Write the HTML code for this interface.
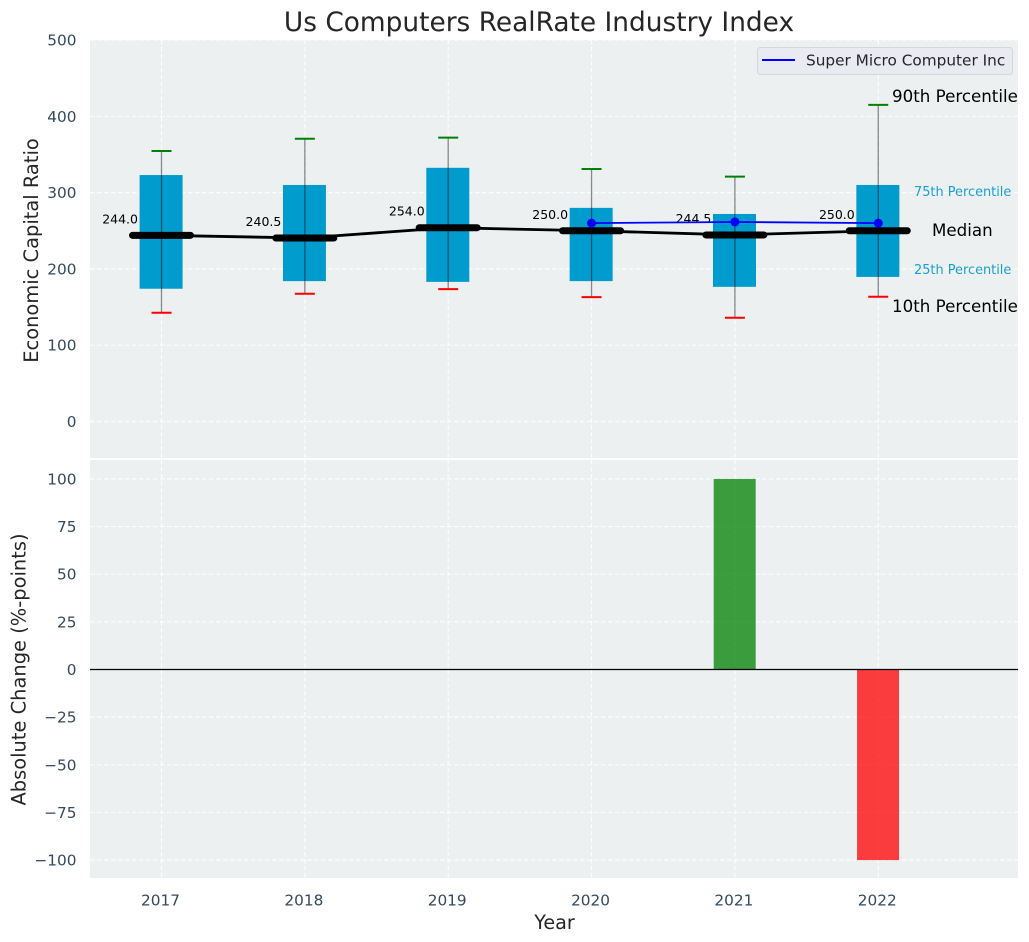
<!DOCTYPE html>
<html>
<head>
<meta charset="utf-8">
<title>Us Computers RealRate Industry Index</title>
<style>
html,body{margin:0;padding:0;background:#fff;width:1029px;height:942px;overflow:hidden}
svg{display:block}
text{font-family:"DejaVu Sans","Liberation Sans",sans-serif}
</style>
</head>
<body>
<svg id="chart" width="1029" height="942" viewBox="0 0 1029 942" xmlns="http://www.w3.org/2000/svg">
  <defs>
    <clipPath id="top-clip"><rect x="90" y="40" width="928" height="418"/></clipPath>
    <clipPath id="bottom-clip"><rect x="90" y="460" width="928" height="418"/></clipPath>
  </defs>
  <text x="539" y="31" font-size="26.4" fill="#262626" text-anchor="middle">Us Computers RealRate Industry Index</text>
  <rect x="90" y="40" width="928" height="418" fill="#ecf0f1"/>
  <rect x="90" y="460" width="928" height="418" fill="#ecf0f1"/>
  <g id="grid-layer"></g>
  <g id="top-marks" clip-path="url(#top-clip)"></g>
  <g id="bottom-marks" clip-path="url(#bottom-clip)"></g>
  <g id="tick-layer"></g>
  <text transform="translate(38,250.5) rotate(-90)" font-size="19.46" fill="#262626" text-anchor="middle">Economic Capital Ratio</text>
  <text transform="translate(25.5,669.5) rotate(-90)" font-size="19.46" fill="#262626" text-anchor="middle">Absolute Change (%-points)</text>
  <text x="554.5" y="929" font-size="19.2" fill="#262626" text-anchor="middle">Year</text>
  <g>
    <rect x="757.5" y="47.5" width="255" height="27" rx="3" fill="#eaeaf2" stroke="#d4d6d8" stroke-width="1"/>
    <line x1="762" y1="60" x2="795" y2="60" stroke="#0000ff" stroke-width="2"/>
    <text x="806" y="65.5" font-size="15.3" fill="#262626">Super Micro Computer Inc</text>
  </g>
  <g>
    <text x="892" y="102" font-size="16.68" fill="#000">90th Percentile</text>
    <text x="914" y="196" font-size="12.9" fill="#1a9fd0">75th Percentile</text>
    <text x="932" y="236" font-size="16.68" fill="#000">Median</text>
    <text x="914" y="274" font-size="12.9" fill="#1a9fd0">25th Percentile</text>
    <text x="892" y="312" font-size="16.68" fill="#000">10th Percentile</text>
  </g>
</svg>
<script>
const years = [2017, 2018, 2019, 2020, 2021, 2022];
const p90 = [354.5, 370.5, 372, 331, 321, 415];
const p75 = [323, 310, 332.5, 280, 272, 310];
const medians = [244.0, 240.5, 254.0, 250.0, 244.5, 250.0];
const p25 = [174, 184, 183, 184, 176.5, 189.5];
const p10 = [142.5, 167.5, 173.5, 163, 136, 163.5];
const companyYears = [2020, 2021, 2022];
const companyValues = [260, 261.5, 260];
const changeValues = [0, 0, 0, 0, 100, -100];
const topTicks = [0, 100, 200, 300, 400, 500];
const bottomTicks = [-100, -75, -50, -25, 0, 25, 50, 75, 100];

const NS = 'http://www.w3.org/2000/svg';
const xScale = function (year) { return 161.5 + (year - 2017) * 143.35; };
const yTop = function (v) { return 421.5 - v * 0.763; };
const yBottom = function (v) { return 669.5 - v * 1.906; };
const boxWidth = 43;
const barWidth = 42;

function make(parent, tag, attrs, text) {
  const el = document.createElementNS(NS, tag);
  for (const k in attrs) el.setAttribute(k, attrs[k]);
  if (text !== undefined) el.textContent = text;
  parent.appendChild(el);
  return el;
}

const gridLayer = document.getElementById('grid-layer');
const gridStyle = { stroke: '#ffffff', 'stroke-width': 1.2, 'stroke-dasharray': '4.5 2.5', 'stroke-opacity': 0.85 };
years.forEach(function (yr) {
  const a = make(gridLayer, 'line', Object.assign({ x1: xScale(yr), x2: xScale(yr), y1: 40, y2: 458 }, gridStyle));
  
  
  const b = make(gridLayer, 'line', Object.assign({ x1: xScale(yr), x2: xScale(yr), y1: 460, y2: 878 }, gridStyle));
  
  
});
topTicks.forEach(function (t) {
  const a = make(gridLayer, 'line', Object.assign({ x1: 90, x2: 1018, y1: yTop(t), y2: yTop(t) }, gridStyle));
  
  
});
bottomTicks.forEach(function (t) {
  const a = make(gridLayer, 'line', Object.assign({ x1: 90, x2: 1018, y1: yBottom(t), y2: yBottom(t) }, gridStyle));
  
  
});

const tickLayer = document.getElementById('tick-layer');
const tickColor = '#34495e';
topTicks.forEach(function (t) {
  const el = make(tickLayer, 'text', { x: 76.5, y: yTop(t) + 5.5, 'font-size': 15.3, fill: tickColor, 'text-anchor': 'end' }, String(t));
  
  
});
bottomTicks.forEach(function (t) {
  const label = t < 0 ? '\u2212' + Math.abs(t) : String(t);
  const el = make(tickLayer, 'text', { x: 76.5, y: yBottom(t) + 5.5, 'font-size': 15.3, fill: tickColor, 'text-anchor': 'end' }, label);
  
  
});
years.forEach(function (yr) {
  const el = make(tickLayer, 'text', { x: xScale(yr) - 1, y: 905.5, 'font-size': 15.3, fill: tickColor, 'text-anchor': 'middle' }, String(yr));
  
  
});

const topMarks = document.getElementById('top-marks');
years.forEach(function (yr, i) {
  const x = xScale(yr);
  const box = make(topMarks, 'rect', { x: x - boxWidth / 2 - 0.4, y: yTop(p75[i]), width: boxWidth, height: yTop(p25[i]) - yTop(p75[i]), fill: '#009ccd' });
  
  
  const whisker = make(topMarks, 'line', { x1: x, x2: x, y1: yTop(p90[i]), y2: yTop(p10[i]), stroke: '#000', 'stroke-opacity': 0.45, 'stroke-width': 1.3 });
  
  
  const capHigh = make(topMarks, 'line', { x1: x - 10, x2: x + 10, y1: yTop(p90[i]), y2: yTop(p90[i]), stroke: '#008000', 'stroke-width': 2 });
  
  
  const capLow = make(topMarks, 'line', { x1: x - 10, x2: x + 10, y1: yTop(p10[i]), y2: yTop(p10[i]), stroke: '#ff0000', 'stroke-width': 2 });
  
  
});

const medianPoints = years.map(function (yr, i) { return xScale(yr) + ',' + yTop(medians[i]); }).join(' ');
const medianLine = make(topMarks, 'polyline', { points: medianPoints, fill: 'none', stroke: '#000', 'stroke-width': 2.8 });



years.forEach(function (yr, i) {
  const x = xScale(yr);
  const bar = make(topMarks, 'line', { x1: x - 29, x2: x + 29, y1: yTop(medians[i]), y2: yTop(medians[i]), stroke: '#000', 'stroke-width': 7, 'stroke-linecap': 'round' });
  
  
  const label = make(topMarks, 'text', { x: x - 23.5, y: yTop(medians[i]) - 12, 'font-size': 12.5, fill: '#000', 'text-anchor': 'end' }, medians[i].toFixed(1));
  
  
});

const companyPoints = companyYears.map(function (yr, i) { return xScale(yr) + ',' + yTop(companyValues[i]); }).join(' ');
const companyLine = make(topMarks, 'polyline', { points: companyPoints, fill: 'none', stroke: '#0000ff', 'stroke-width': 1.8 });


companyYears.forEach(function (yr, i) {
  const dot = make(topMarks, 'circle', { cx: xScale(yr), cy: yTop(companyValues[i]), r: 4.5, fill: '#0000ff' });
  
  
});

const bottomMarks = document.getElementById('bottom-marks');
years.forEach(function (yr, i) {
  const v = changeValues[i];
  if (v === 0) return;
  const y0 = Math.min(yBottom(0), yBottom(v));
  const h = Math.abs(yBottom(v) - yBottom(0));
  const bar = make(bottomMarks, 'rect', { x: xScale(yr) - barWidth / 2 - 0.2, y: y0, width: barWidth, height: h, fill: v > 0 ? '#008000' : '#ff0000', 'fill-opacity': 0.75 });
  
  
});
const zeroLine = make(bottomMarks, 'line', { x1: 90, x2: 1018, y1: yBottom(0), y2: yBottom(0), stroke: '#000', 'stroke-width': 1.2 });


</script>
</body>
</html>
